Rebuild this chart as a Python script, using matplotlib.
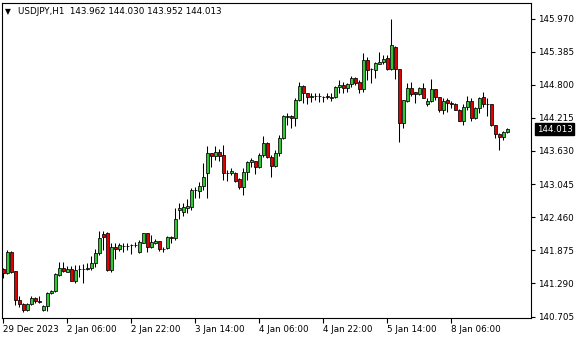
import numpy as np
import matplotlib
matplotlib.use("Agg")
import matplotlib.pyplot as plt

# USDJPY H1 candles
opens = [141.544, 141.474, 141.845, 141.509, 140.997, 140.926, 140.820, 140.926, 141.032, 140.979,
         140.820, 140.891, 141.120, 141.156, 141.438, 141.562, 141.500, 141.544, 141.332, 141.536,
         141.544, 141.553, 141.557, 141.645, 141.822, 142.157, 142.175, 141.527, 141.938, 141.892,
         141.951, 141.951, 141.960, 141.968, 141.850, 142.009, 142.175, 141.938, 142.009, 142.039,
         141.892, 141.910, 142.115, 142.092, 142.587, 142.557, 142.622, 142.645, 142.940, 142.928,
         143.011, 143.246, 143.589, 143.546, 143.606, 143.559, 143.246, 143.235, 143.235, 143.129,
         142.988, 143.263, 143.430, 143.458, 143.341, 143.559, 143.765, 143.518, 143.369, 143.589,
         143.853, 144.235, 144.247, 144.207, 144.530, 144.778, 144.649, 144.578, 144.601, 144.601,
         144.588, 144.601, 144.560, 144.578, 144.755, 144.795, 144.737, 144.808, 144.914, 144.853,
         144.725, 145.237, 145.078, 145.060, 145.166, 145.196, 145.267, 145.078, 145.472, 145.073,
         144.119, 144.513, 144.737, 144.663, 144.645, 144.742, 144.454, 144.518, 144.719, 144.578,
         144.354, 144.530, 144.472, 144.456, 144.361, 144.165, 144.401, 144.513, 144.218, 144.384,
         144.578, 144.456, 144.454, 144.083, 143.924, 143.885, 143.962]
highs = [141.562, 141.880, 141.862, 141.509, 141.067, 140.944, 140.944, 141.067, 141.050, 141.067,
         140.908, 141.138, 141.173, 141.474, 141.668, 141.668, 141.589, 141.597, 141.615, 141.615,
         141.633, 141.656, 141.774, 141.892, 142.216, 142.216, 142.203, 142.009, 141.998, 142.009,
         141.998, 141.998, 141.986, 142.027, 142.057, 142.186, 142.186, 142.145, 142.069, 142.039,
         141.938, 142.127, 142.127, 142.622, 142.710, 142.710, 142.781, 142.975, 142.998, 143.087,
         143.417, 143.718, 143.594, 143.718, 143.665, 143.735, 143.293, 143.329, 143.263, 143.147,
         143.324, 143.458, 143.500, 143.458, 143.589, 143.899, 143.793, 143.559, 143.647, 143.912,
         144.265, 144.295, 144.265, 144.560, 144.854, 144.795, 144.649, 144.659, 144.649, 144.649,
         144.601, 144.649, 144.649, 144.778, 144.884, 144.854, 144.825, 144.954, 144.942, 144.884,
         145.355, 145.295, 145.090, 145.207, 145.373, 145.325, 145.325, 145.961, 145.484, 145.078,
         144.539, 144.831, 144.848, 144.680, 144.760, 144.825, 144.560, 144.901, 144.725, 144.588,
         144.560, 144.557, 144.518, 144.477, 144.371, 144.460, 144.601, 144.574, 144.407, 144.583,
         144.677, 144.560, 144.460, 144.089, 143.942, 143.988, 144.030]
lows = [141.385, 141.465, 141.474, 140.908, 140.873, 140.785, 140.802, 140.908, 140.944, 140.952,
        140.802, 140.802, 141.103, 141.138, 141.421, 141.491, 141.483, 141.325, 141.297, 141.412,
        141.297, 141.527, 141.527, 141.585, 141.792, 141.880, 141.509, 141.491, 141.716, 141.868,
        141.850, 141.880, 141.809, 141.938, 141.832, 141.998, 141.850, 141.910, 141.986, 141.868,
        141.850, 141.892, 142.009, 142.057, 142.428, 142.481, 142.534, 142.587, 142.799, 142.793,
        142.940, 142.799, 143.346, 143.470, 143.458, 143.117, 143.104, 143.205, 143.087, 142.952,
        142.852, 143.117, 143.341, 143.223, 143.324, 143.528, 143.500, 143.175, 143.352, 143.541,
        143.841, 144.089, 144.041, 144.071, 144.518, 144.472, 144.454, 144.500, 144.530, 144.500,
        144.500, 144.543, 144.518, 144.566, 144.649, 144.649, 144.666, 144.765, 144.796, 144.649,
        144.677, 144.884, 144.836, 144.914, 145.161, 145.161, 145.060, 145.060, 144.901, 143.793,
        144.030, 144.500, 144.606, 144.486, 144.619, 144.571, 144.433, 144.500, 144.530, 144.324,
        144.283, 144.318, 144.384, 144.354, 144.159, 144.080, 144.354, 144.168, 144.186, 144.295,
        144.412, 144.247, 144.071, 143.853, 143.647, 143.815, 143.952]
closes = [141.474, 141.845, 141.491, 140.997, 140.926, 140.820, 140.926, 141.032, 140.979, 140.970,
          140.891, 141.120, 141.156, 141.456, 141.562, 141.509, 141.544, 141.335, 141.527, 141.544,
          141.553, 141.562, 141.645, 141.822, 142.097, 142.115, 141.527, 141.928, 141.892, 141.968,
          141.945, 141.956, 141.968, 141.963, 142.027, 142.175, 141.938, 142.027, 142.044, 141.892,
          141.889, 142.115, 142.087, 142.428, 142.622, 142.635, 142.657, 142.940, 142.935, 143.011,
          143.165, 143.589, 143.546, 143.606, 143.546, 143.235, 143.240, 143.281, 143.104, 142.988,
          143.263, 143.430, 143.470, 143.341, 143.559, 143.765, 143.518, 143.369, 143.589, 143.853,
          144.247, 144.239, 144.207, 144.530, 144.778, 144.649, 144.578, 144.601, 144.597, 144.596,
          144.592, 144.578, 144.588, 144.755, 144.795, 144.737, 144.808, 144.914, 144.836, 144.725,
          145.237, 145.060, 145.074, 145.179, 145.196, 145.255, 145.078, 145.502, 145.078, 144.119,
          144.530, 144.737, 144.631, 144.631, 144.742, 144.574, 144.521, 144.719, 144.578, 144.354,
          144.521, 144.483, 144.468, 144.361, 144.165, 144.401, 144.513, 144.218, 144.384, 144.560,
          144.456, 144.453, 144.080, 143.924, 143.885, 143.961, 144.013]

time_labels = ["29 Dec 2023", "2 Jan 06:00", "2 Jan 22:00", "3 Jan 14:00",
               "4 Jan 06:00", "4 Jan 22:00", "5 Jan 14:00", "8 Jan 06:00"]
price_ticks = [145.970, 145.385, 144.800, 144.215, 143.630,
               143.045, 142.460, 141.875, 141.290, 140.705]
title = "USDJPY,H1  143.962 144.030 143.952 144.013"
last_price = 144.013

BULL = "#32c832"
BEAR = "#e00000"
FS = 6.3

o = np.array(opens)
c = np.array(closes)
x = np.arange(len(o))

fig = plt.figure(figsize=(5.8, 3.4), dpi=100)
W, H = 580, 340
ax = fig.add_axes([2 / W, (H - 318) / H, (531 - 2) / W, (318 - 3) / H])

# wicks, then bodies on top
ax.vlines(x, lows, highs, color="black", lw=0.75, zorder=2)
colors = np.where(c >= o, BULL, BEAR)
heights = c - o
heights = np.where(np.abs(heights) < 0.004, 0.004, heights)
ax.bar(x, heights, bottom=o, width=0.68, color=colors, edgecolor="black",
       linewidth=0.55, zorder=3)

ax.set_xlim(-0.325, 131.925)
ax.set_ylim(140.679, 146.244)

for s in ax.spines.values():
    s.set_color("black")
    s.set_linewidth(0.8)

ax.yaxis.tick_right()
ax.set_yticks(price_ticks)
ax.set_yticklabels([f"{v:.3f}" for v in price_ticks], fontsize=FS)
ax.tick_params(axis="y", direction="out", length=3, width=0.8, pad=2)

ax.set_xticks(np.arange(len(time_labels)) * 16)
ax.set_xticklabels(time_labels, fontsize=FS, ha="left")
ax.tick_params(axis="x", direction="out", length=3.5, width=0.8, pad=1.5)

# current price tag on the right axis
ax.annotate(f"{last_price:.3f}", xy=(1.0, last_price), xycoords=("axes fraction", "data"),
            xytext=(4, 0), textcoords="offset points", va="center", ha="left",
            fontsize=FS, color="white",
            bbox=dict(boxstyle="square,pad=0.15", fc="black", ec="black"),
            annotation_clip=False)

fig.text(5 / W, 1 - 12 / H, "\u25bc", fontsize=5.5, va="center", ha="left")
fig.text(18 / W, 1 - 12 / H, title, fontsize=FS, va="center", ha="left")

fig.savefig("out.png", dpi=100, facecolor="white")
